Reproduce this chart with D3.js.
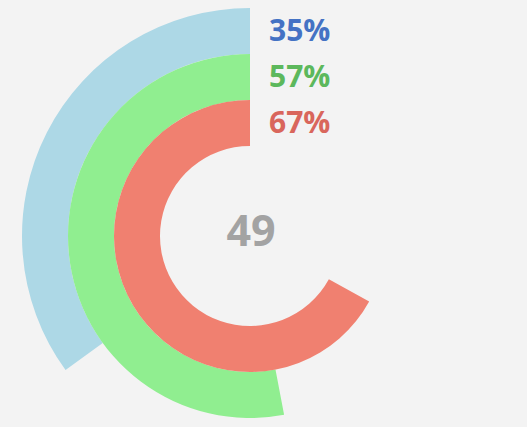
<!DOCTYPE html>
<html lang="en">
<head>
  <meta charset="UTF-8"/>
  <title>Radial bars</title>
  <script src="https://d3js.org/d3.v7.min.js"></script>
  <style>
    html, body {
      margin: 0;
      background: #f3f3f3;
      overflow: hidden;
    }
    svg {
      display: block;
    }
    text.value {
      font-family: 'Open Sans', sans-serif;
      font-weight: 700;
      font-size: 30px;
    }
    text.total {
      font-family: 'Open Sans', sans-serif;
      font-weight: 700;
      font-size: 43px;
      fill: #a3a3a3;
    }
  </style>
</head>
<body>
  <svg width="527" height="427"></svg>
<script>
  // outer ring first
  const categories = ['A', 'B', 'C'];
  const values = [35, 53, 67];
  const labels = ['35%', '57%', '67%'];
  const centerLabel = '49';
  const fills = ['#add8e6', '#90ee90', '#f08070'];
  const textColors = ['#4472c4', '#5cb85c', '#d9665c'];

  const width = 527;
  const height = 427;
  const cx = 250;
  const cy = 236;

  const svg = d3.select('svg');
  const chart = svg.append('g')
    .attr('transform', `translate(${cx}, ${cy})`);

  // counterclockwise sweep from 12 o'clock
  const angle = d3.scaleLinear()
    .domain([0, 100])
    .range([0, -2 * Math.PI]);

  const radius = d3.scaleBand()
    .domain(categories)
    .range([228, 90])
    .paddingInner(0);

  const arc = d3.arc()
    .innerRadius((d, i) => radius(categories[i]))
    .outerRadius((d, i) => radius(categories[i]) + radius.bandwidth())
    .startAngle(0)
    .endAngle((d) => angle(d));

  chart.selectAll('path.ring')
    .data(values)
    .enter()
    .append('path')
    .attr('class', 'ring')
    .attr('fill', (d, i) => fills[i])
    .attr('d', (d, i) => arc(d, i));

  chart.selectAll('text.value')
    .data(labels)
    .enter()
    .append('text')
    .attr('class', 'value')
    .attr('x', 19)
    .attr('y', (d, i) => -(radius(categories[i]) + radius.bandwidth() / 2) - 2)
    .attr('dominant-baseline', 'central')
    .attr('fill', (d, i) => textColors[i])
    .text((d) => d);

  chart.append('text')
    .attr('class', 'total')
    .attr('x', 1)
    .attr('y', -7)
    .attr('text-anchor', 'middle')
    .attr('dominant-baseline', 'central')
    .text(centerLabel);
</script>
</body>
</html>
